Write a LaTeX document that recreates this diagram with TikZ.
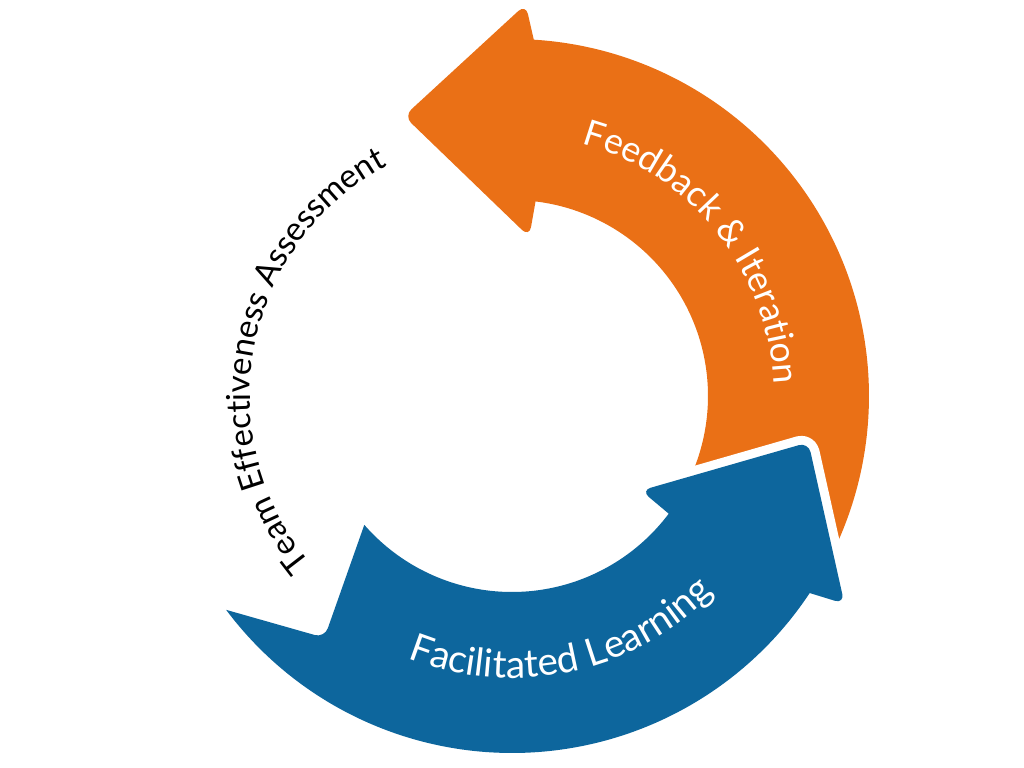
\documentclass[tikz,border=0pt]{standalone}
\usepackage{fontspec}
\setmainfont{Lato}
\usetikzlibrary{decorations.text}
\definecolor{cycleorange}{RGB}{234,112,22}
\definecolor{cycleblue}{RGB}{13,102,157}
\newcommand{\topbandfont}{\fontsize{25.5}{30}\selectfont}
\newcommand{\lowbandfont}{\fontsize{27.5}{32}\selectfont}
\newcommand{\outerfont}{\fontsize{23.5}{28}\selectfont}
\tikzset{
    orangearrow/.style={fill=cycleorange},
    bluearrow/.style={fill=cycleblue, preaction={draw=white, line width=0.45cm, line join=round}},
    bandtext/.style={decorate, decoration={text along path, text align=center, text color=white}},
    outertext/.style={decorate, decoration={text along path, text align=center, text color=black}},
}
\begin{document}
\begin{tikzpicture}[x=0.025cm, y=0.025cm]
    \useasboundingbox (-512,-372) rectangle (512,396);
    % orange arrow, tail hidden under the blue head
    \path[orangearrow] (-28:357) -- (-28:196)
        arc[start angle=-28, end angle=83.1, radius=196]
        [rounded corners=0.25cm] -- (83.8:160) -- (111.1:300) -- (88:392) [sharp corners] -- (86.5:357)
        arc[start angle=86.5, end angle=-28, radius=357] -- cycle;
    % blue arrow with notched tail
    \path[bluearrow] (216.8:357) [rounded corners=0.25cm] -- (232.2:306) [sharp corners] -- (221.1:196)
        arc[start angle=221.1, end angle=323.1, radius=196]
        [rounded corners=0.25cm] -- (323.8:160) -- (351.1:300) -- (328:392) [sharp corners] -- (326.5:357)
        arc[start angle=326.5, end angle=216.8, radius=357] -- cycle;
    % labels along the ring
    \path[bandtext, decoration={text={|\topbandfont|Feedback {\&} Iteration}}]
        (88.5:262) arc[start angle=88.5, end angle=-11.5, radius=262];
    \path[bandtext, decoration={text={|\lowbandfont|Facilitated Learning}}]
        (226:282) arc[start angle=226, end angle=338, radius=282];
    \path[outertext, decoration={text={|\outerfont|Team Effectiveness Assessment}}]
        (232:262) arc[start angle=232, end angle=106, radius=262];
\end{tikzpicture}
\end{document}
